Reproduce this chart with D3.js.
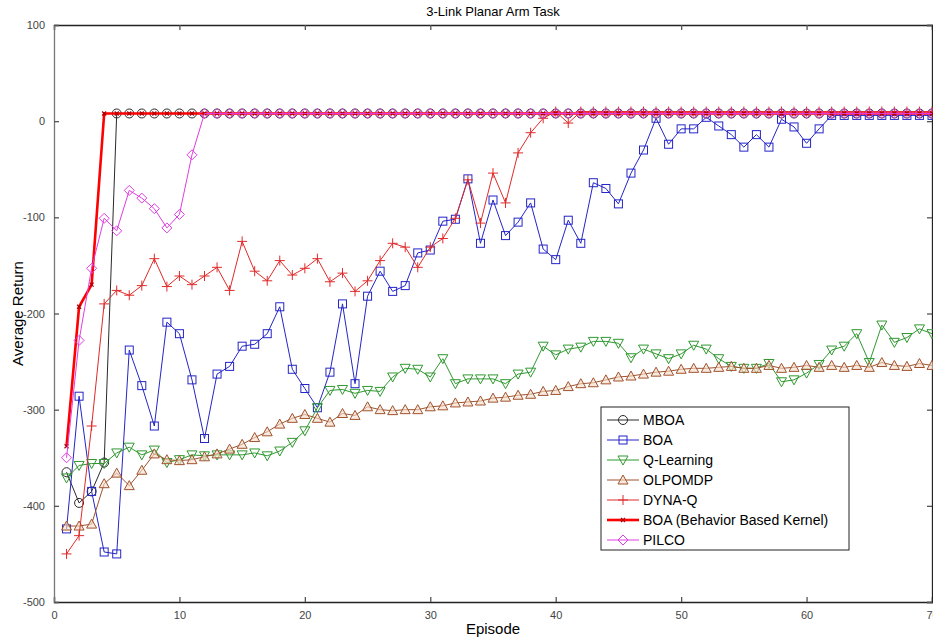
<!DOCTYPE html>
<html><head><meta charset="utf-8">
<script src="https://cdn.jsdelivr.net/npm/d3@7"></script>
<style>
body{margin:0;background:#fff;}
svg{display:block;font-family:"Liberation Sans",Arial,sans-serif;}
</style></head>
<body><svg id="c" width="933" height="640"></svg>
<script>
const episodes = [1,2,3,4,5,6,7,8,9,10,11,12,13,14,15,16,17,18,19,20,21,22,23,24,25,26,27,28,29,30,31,32,33,34,35,36,37,38,39,40,41,42,43,44,45,46,47,48,49,50,51,52,53,54,55,56,57,58,59,60,61,62,63,64,65,66,67,68,69,70];
const mboa = [-365,-397,-385,-355,8,8,8,8,8,8,8,8,8,8,8,8,8,8,8,8,8,8,8,8,8,8,8,8,8,8,8,8,8,8,8,8,8,8,8,8,8,8,8,8,8,8,8,8,8,8,8,8,8,8,8,8,8,8,8,8,8,8,8,8,8,8,8,8,8,8];
const boa = [-424,-286,-385,-448,-450,-238,-275,-317,-209,-221,-269,-330,-263,-255,-234,-232,-221,-193,-258,-278,-298,-261,-190,-273,-182,-156,-177,-171,-137,-134,-104,-102,-60,-127,-82,-119,-105,-85,-133,-144,-103,-127,-64,-70,-86,-54,-30,3,-24,-8,-8,4,-5,-14,-27,-14,-27,2,-6,-23,-8,6,6,6,6,6,6,6,6,6];
const qlearning = [-371,-358,-356,-356,-345,-339,-347,-342,-355,-352,-347,-348,-347,-347,-347,-345,-348,-343,-334,-322,-298,-280,-279,-283,-280,-281,-266,-257,-258,-266,-247,-273,-268,-268,-268,-273,-263,-261,-234,-243,-237,-235,-229,-229,-231,-246,-237,-242,-247,-242,-233,-237,-247,-255,-257,-257,-252,-271,-269,-262,-253,-238,-234,-221,-251,-212,-230,-225,-216,-221];
const olpomdp = [-421,-421,-419,-377,-366,-379,-363,-346,-352,-353,-352,-349,-346,-341,-336,-329,-323,-315,-309,-305,-309,-313,-304,-306,-297,-300,-301,-300,-300,-297,-296,-293,-292,-291,-288,-287,-285,-284,-281,-280,-276,-273,-272,-269,-266,-265,-263,-261,-260,-258,-257,-257,-256,-255,-257,-257,-254,-257,-256,-254,-256,-254,-256,-254,-256,-251,-254,-255,-252,-254];
const dynaq = [-450,-431,-317,-190,-176,-181,-171,-143,-172,-161,-170,-161,-152,-176,-125,-156,-166,-145,-160,-153,-143,-167,-158,-177,-166,-145,-127,-131,-152,-131,-122,-101,-61,-106,-54,-85,-33,-12,3,10,-2,10,10,10,10,10,10,10,10,10,10,10,10,10,10,10,10,10,10,10,10,10,10,10,10,10,10,10,10,10];
const boaBbk = [-338,-193,-170,8,8,8,8,8,8,8,8,8,8,8,8,8,8,8,8,8,8,8,8,8,8,8,8,8,8,8,8,8,8,8,8,8,8,8,8,8,8,8,8,8,8,8,8,8,8,8,8,8,8,8,8,8,8,8,8,8,8,8,8,8,8,8,8,8,8,8];
const pilco = [-350,-228,-153,-101,-114,-72,-80,-91,-111,-97,-35,8,8,8,8,8,8,8,8,8,8,8,8,8,8,8,8,8,8,8,8,8,8,8,8,8,8,8,8,8,8,8,8,8,8,8,8,8,8,8,8,8,8,8,8,8,8,8,8,8,8,8,8,8,8,8,8,8,8,8];
const seriesNames = ["MBOA","BOA","Q-Learning","OLPOMDP","DYNA-Q","BOA (Behavior Based Kernel)","PILCO"];
const xTicks = [0,10,20,30,40,50,60,70];
const yTicks = [100,0,-100,-200,-300,-400,-500];
const titleText = "3-Link Planar Arm Task";
const xLabel = "Episode";
const yLabel = "Average Return";

const series = [
  {name:seriesNames[0], values:mboa, color:"#2a2a2a", width:1, marker:"circle"},
  {name:seriesNames[1], values:boa, color:"#2424c8", width:1, marker:"square"},
  {name:seriesNames[2], values:qlearning, color:"#2f982f", width:1, marker:"tdown"},
  {name:seriesNames[3], values:olpomdp, color:"#a0522d", width:1, marker:"tup"},
  {name:seriesNames[4], values:dynaq, color:"#e02a2a", width:1, marker:"plus"},
  {name:seriesNames[5], values:boaBbk, color:"#ff0000", width:2.6, marker:"x"},
  {name:seriesNames[6], values:pilco, color:"#e03ce0", width:1, marker:"diamond"}
];

const L=54, R=932, T=25, B=602;
const svg = d3.select("#c");
svg.append("rect").attr("width",933).attr("height",640).attr("fill","#fff");
const x = d3.scaleLinear().domain([0,70]).range([L,R]);
const y = d3.scaleLinear().domain([-500,100]).range([B,T]);

const fmt = d => String(d);
const gx = svg.append("g").attr("transform",`translate(0,${B})`)
  .call(d3.axisBottom(x).tickValues(xTicks).tickSize(-5).tickPadding(9).tickFormat(fmt));
const gxTop = svg.append("g").attr("transform",`translate(0,${T})`)
  .call(d3.axisTop(x).tickValues(xTicks).tickSize(-5).tickFormat(""));
const gy = svg.append("g").attr("transform",`translate(${L},0)`)
  .call(d3.axisLeft(y).tickValues(yTicks).tickSize(-5).tickPadding(9).tickFormat(fmt));
const gyR = svg.append("g").attr("transform",`translate(${R},0)`)
  .call(d3.axisRight(y).tickValues(yTicks).tickSize(-5).tickFormat(""));
[gx,gxTop,gy,gyR].forEach(g=>{
  g.select(".domain").attr("stroke","#222").attr("stroke-width",1.3);
  g.selectAll(".tick line").attr("stroke","#555").attr("stroke-width",1.3);
  g.selectAll(".tick text").attr("fill","#444").style("font-size","11px").style("font-family","Liberation Sans, Arial, sans-serif");
});
gy.select(".domain").attr("stroke","#777");

const clip = svg.append("clipPath").attr("id","pc").append("rect")
  .attr("x",L).attr("y",T-6).attr("width",R-L+6).attr("height",B-T+12);

function drawMarker(g, type, cx, cy, color){
  if(type==="circle"){
    g.append("circle").attr("cx",cx).attr("cy",cy).attr("r",4.5).attr("fill","none").attr("stroke",color).attr("stroke-width",1);
  } else if(type==="square"){
    g.append("rect").attr("x",cx-4).attr("y",cy-4).attr("width",8).attr("height",8).attr("fill","none").attr("stroke",color).attr("stroke-width",1);
  } else if(type==="tdown"){
    g.append("path").attr("d",`M${cx-5},${cy-4}L${cx+5},${cy-4}L${cx},${cy+5}Z`).attr("fill","none").attr("stroke",color).attr("stroke-width",1);
  } else if(type==="tup"){
    g.append("path").attr("d",`M${cx-5},${cy+4}L${cx+5},${cy+4}L${cx},${cy-5}Z`).attr("fill","#f3dcc8").attr("fill-opacity",0.6).attr("stroke",color).attr("stroke-width",1);
  } else if(type==="plus"){
    g.append("path").attr("d",`M${cx-5},${cy}L${cx+5},${cy}M${cx},${cy-5}L${cx},${cy+5}`).attr("stroke",color).attr("stroke-width",1);
  } else if(type==="x"){
    g.append("path").attr("d",`M${cx-2},${cy-2}L${cx+2},${cy+2}M${cx-2},${cy+2}L${cx+2},${cy-2}`).attr("stroke","#a00").attr("stroke-width",1.2);
  } else if(type==="diamond"){
    g.append("path").attr("d",`M${cx},${cy-5}L${cx+5},${cy}L${cx},${cy+5}L${cx-5},${cy}Z`).attr("fill","none").attr("stroke",color).attr("stroke-width",1);
  }
}

const line = d3.line().x((d,i)=>x(episodes[i])).y(d=>y(d));
const plot = svg.append("g").attr("clip-path","url(#pc)");
series.forEach(s=>{
  const g = plot.append("g");
  g.append("path").attr("d",line(s.values)).attr("fill","none").attr("stroke",s.color).attr("stroke-width",s.width);
  s.values.forEach((v,i)=>drawMarker(g,s.marker,x(episodes[i]),y(v),s.color));
});

svg.append("text").attr("x",(L+R)/2).attr("y",16).attr("text-anchor","middle")
  .style("font-size","13px").attr("fill","#000").text(titleText);
svg.append("text").attr("x",(L+R)/2).attr("y",634).attr("text-anchor","middle")
  .style("font-size","15px").attr("fill","#000").text(xLabel);
svg.append("text").attr("transform",`translate(23,${(T+B)/2}) rotate(-90)`).attr("text-anchor","middle")
  .style("font-size","15px").attr("fill","#000").text(yLabel);

const lg = svg.append("g");
lg.append("rect").attr("x",601).attr("y",407).attr("width",248).attr("height",143)
  .attr("fill","#fff").attr("stroke","#222").attr("stroke-width",1);
series.forEach((s,i)=>{
  const yy = 420 + i*20;
  lg.append("line").attr("x1",607).attr("x2",639).attr("y1",yy).attr("y2",yy)
    .attr("stroke",s.color).attr("stroke-width",s.width);
  drawMarker(lg,s.marker,623,yy,s.color);
  lg.append("text").attr("x",643).attr("y",yy+5).style("font-size","14px").attr("fill","#000").text(s.name);
});
</script></body></html>
